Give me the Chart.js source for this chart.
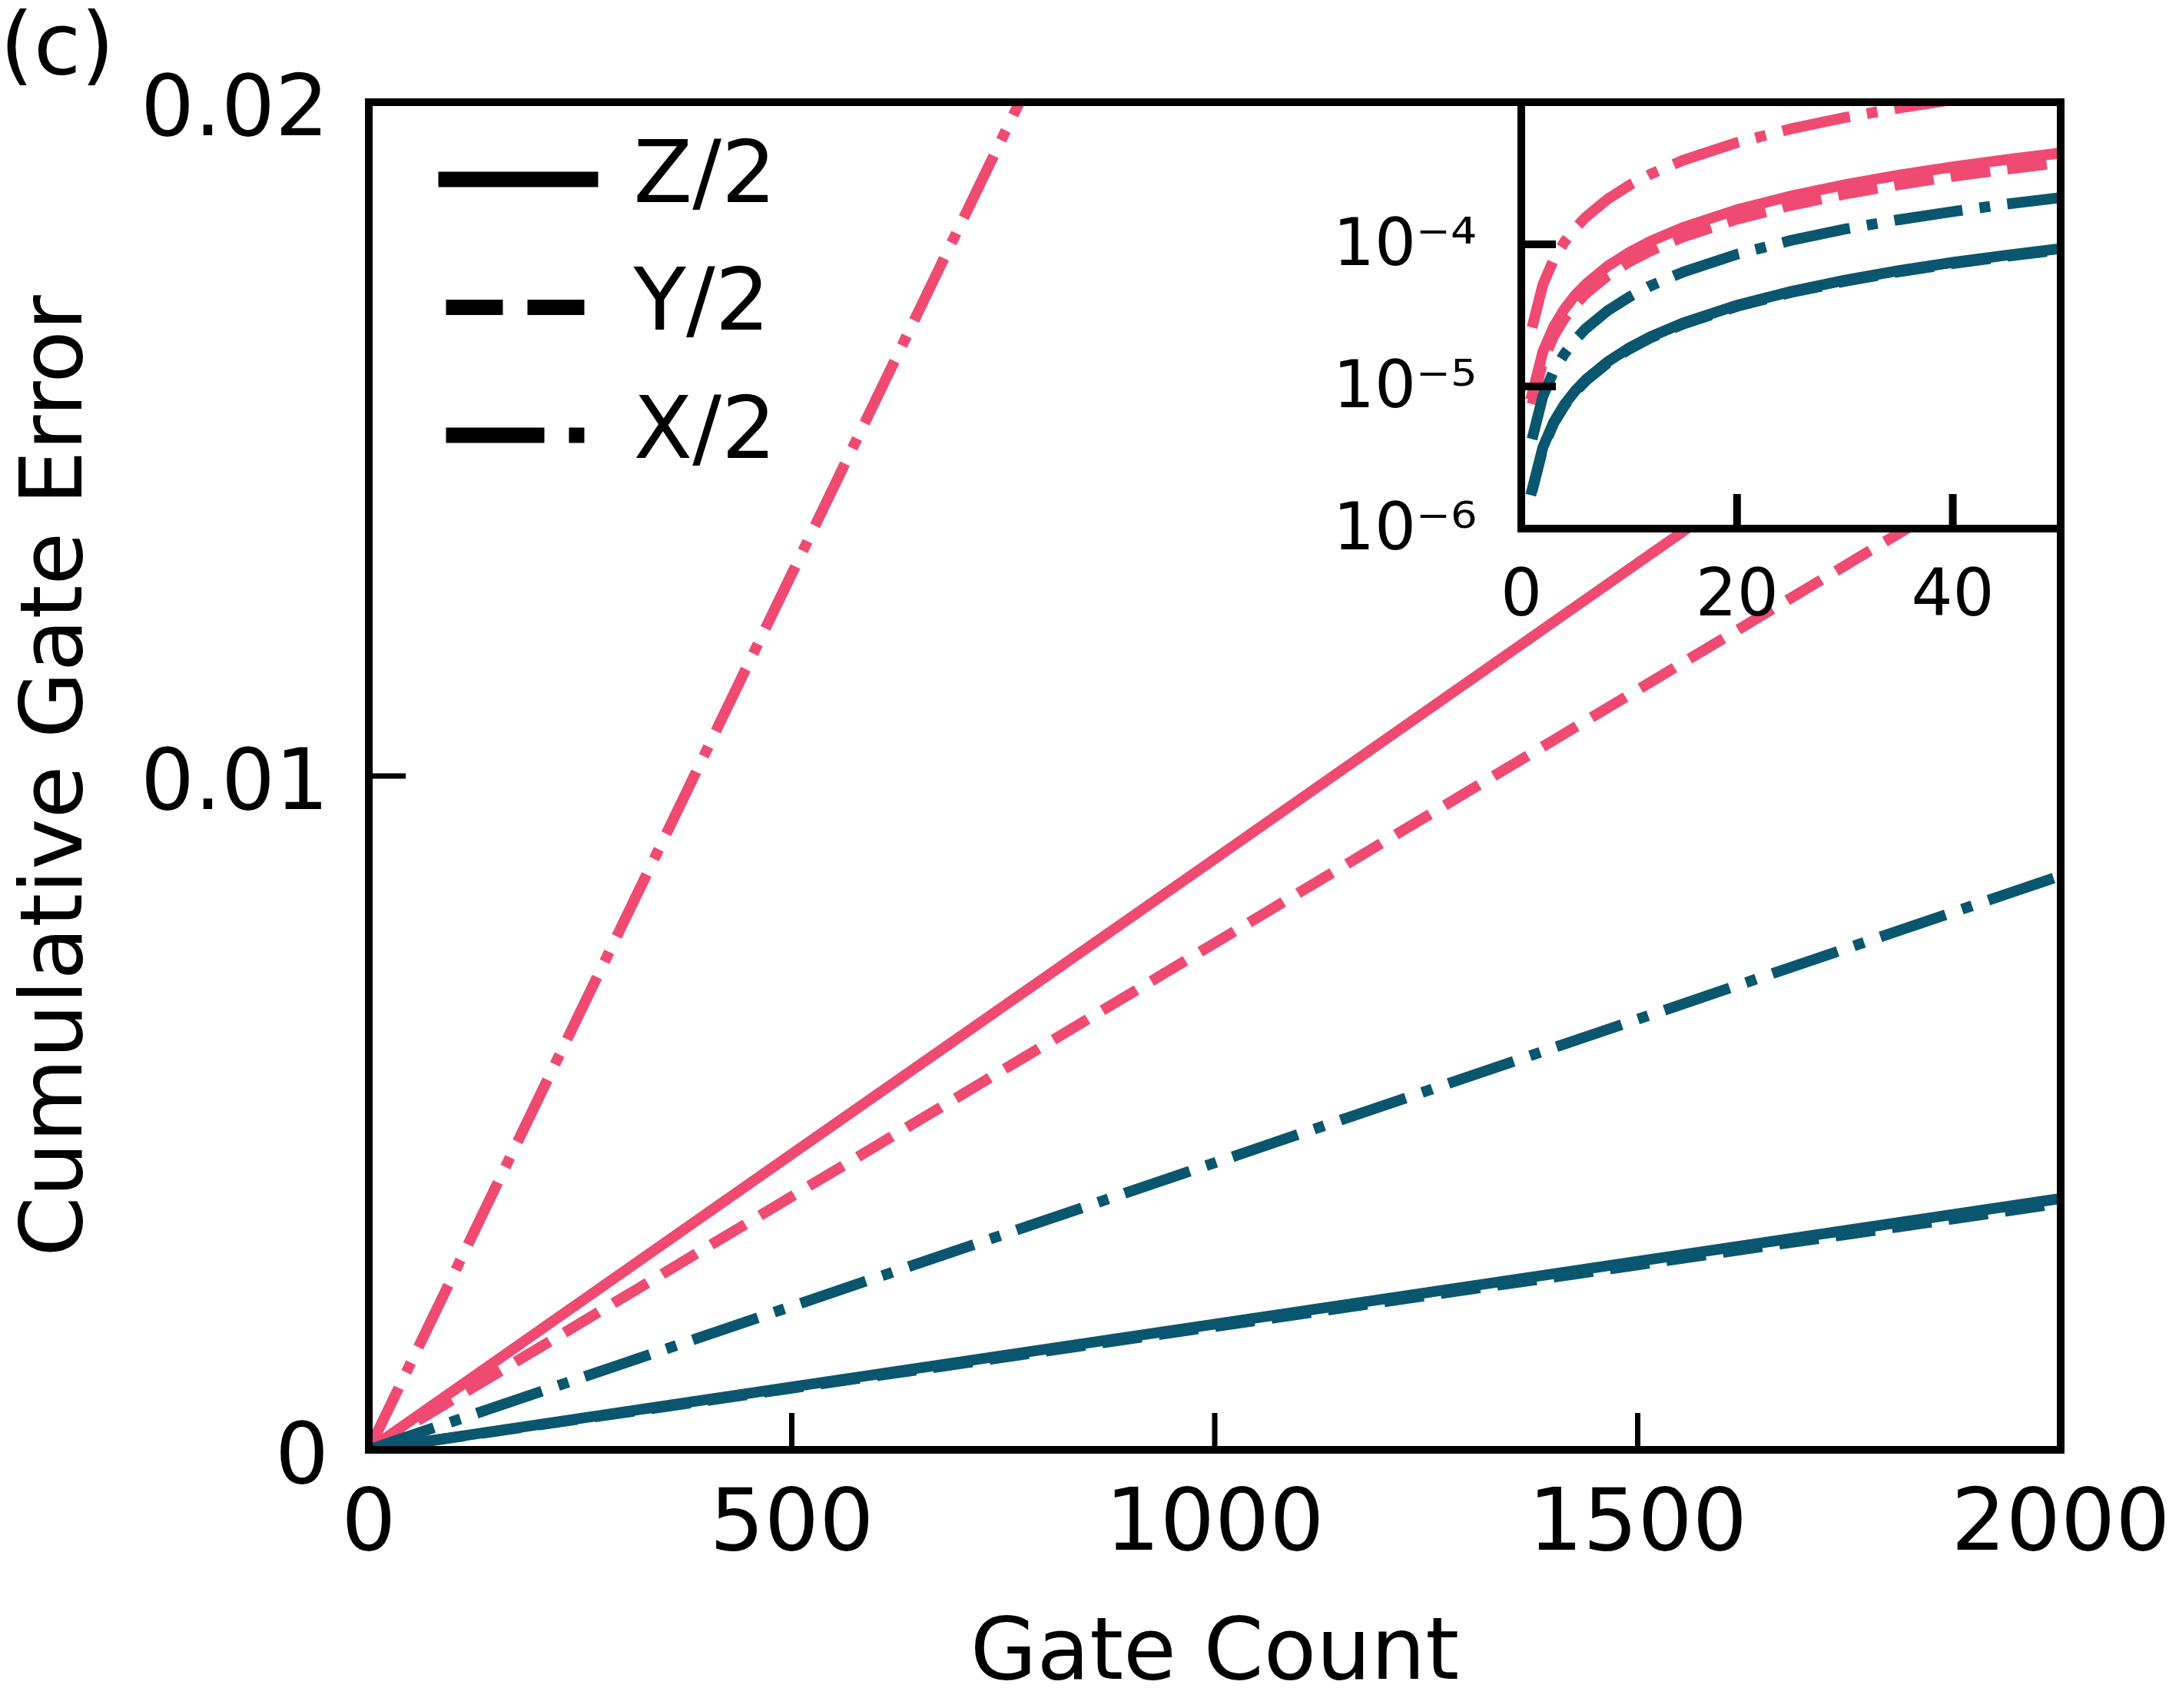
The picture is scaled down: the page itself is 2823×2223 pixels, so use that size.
<!DOCTYPE html>
<html>
<head>
<meta charset="utf-8">
<script src="https://cdn.jsdelivr.net/npm/chart.js@4.4.1/dist/chart.umd.min.js"></script>
<style>
  html, body { margin: 0; padding: 0; background: #fff; }
  #wrap { position: relative; width: 2823px; height: 2223px; }
  #wrap canvas { position: absolute; left: 0; top: 0; }
  #inset { pointer-events: none; }
</style>
</head>
<body>
<div id="wrap">
  <canvas id="main" width="2823" height="2223"></canvas>
  <canvas id="inset" width="2823" height="2223"></canvas>
</div>
<script>
// ---- data ----
const gateNames = ['Z/2', 'Y/2', 'X/2'];

// main panel, gate count 0..2000
const mainGates  = [0, 500, 1000, 1500, 2000];
const mainPinkZ  = [0, 0.00439, 0.00877, 0.01316, 0.01754];
const mainPinkY  = [0, 0.00376, 0.00752, 0.01128, 0.01504];
const mainPinkX  = [0, 0.0130, 0.0260, 0.0390, 0.0520];
const mainTealZ  = [0, 0.000933, 0.001865, 0.002798, 0.00373];
const mainTealY  = [0, 0.000915, 0.00183, 0.002745, 0.00366];
const mainTealX  = [0, 0.00213, 0.00426, 0.00639, 0.00852];
const mainXTicks  = [0, 500, 1000, 1500, 2000];
const mainXLabels = ['0', '500', '1000', '1500', '2000'];
const mainYTicks  = [0, 0.01, 0.02];
const mainYLabels = ['0', '0.01', '0.02'];

// inset, first 50 gates on a log axis
const insetGates = [0, 1, 2, 3, 4, 5, 6, 8, 10, 12, 15, 20, 25, 30, 35, 40, 45, 50];
const insetPinkZ = [0, 8.77e-6, 1.754e-5, 2.63e-5, 3.51e-5, 4.39e-5, 5.26e-5, 7.02e-5, 8.77e-5, 1.052e-4, 1.316e-4, 1.754e-4, 2.19e-4, 2.63e-4, 3.07e-4, 3.51e-4, 3.95e-4, 4.39e-4];
const insetPinkY = [0, 7.52e-6, 1.504e-5, 2.26e-5, 3.01e-5, 3.76e-5, 4.51e-5, 6.02e-5, 7.52e-5, 9.02e-5, 1.128e-4, 1.504e-4, 1.88e-4, 2.26e-4, 2.63e-4, 3.01e-4, 3.38e-4, 3.76e-4];
const insetPinkX = [0, 2.6e-5, 5.2e-5, 7.8e-5, 1.04e-4, 1.3e-4, 1.56e-4, 2.08e-4, 2.6e-4, 3.12e-4, 3.9e-4, 5.2e-4, 6.5e-4, 7.8e-4, 9.1e-4, 1.04e-3, 1.17e-3, 1.3e-3];
const insetTealZ = [0, 1.87e-6, 3.73e-6, 5.6e-6, 7.46e-6, 9.33e-6, 1.12e-5, 1.49e-5, 1.87e-5, 2.24e-5, 2.8e-5, 3.73e-5, 4.66e-5, 5.6e-5, 6.53e-5, 7.46e-5, 8.39e-5, 9.33e-5];
const insetTealY = [0, 1.83e-6, 3.66e-6, 5.49e-6, 7.32e-6, 9.15e-6, 1.1e-5, 1.46e-5, 1.83e-5, 2.2e-5, 2.75e-5, 3.66e-5, 4.58e-5, 5.49e-5, 6.41e-5, 7.32e-5, 8.24e-5, 9.15e-5];
const insetTealX = [0, 4.26e-6, 8.52e-6, 1.28e-5, 1.7e-5, 2.13e-5, 2.56e-5, 3.41e-5, 4.26e-5, 5.11e-5, 6.39e-5, 8.52e-5, 1.065e-4, 1.28e-4, 1.49e-4, 1.7e-4, 1.92e-4, 2.13e-4];
const insetXTicks = [0, 20, 40];
const insetYTicks = [1e-6, 1e-5, 1e-4];
const insetYLabels = ['10\u207B\u2076', '10\u207B\u2075', '10\u207B\u2074'];

// ---- styling ----
const PINK = '#EF4A72';
const TEAL = '#0B566F';
const FONT = 'DejaVu Sans';
const LW   = 14;
const dashFor = {
  'Z/2': [],
  'Y/2': [3.7 * LW, 1.6 * LW],
  'X/2': [6.4 * LW, 1.6 * LW, LW, 1.6 * LW],
};
const LEG_LW = 20;
const legendDash = [[], [3.7 * LEG_LW, 1.6 * LEG_LW], [6.4 * LEG_LW, 1.6 * LEG_LW, LEG_LW, 1.6 * LEG_LW]];

function series(xs, ys) {
  return xs.map((x, i) => ({ x, y: ys[i] }));
}

function makeSets(xs, groups) {
  // groups: [[values, colour, name], ...]; later groups end up on top
  return groups.map(([ys, color, name], i) => ({
    label:          name,
    data:           series(xs, ys),
    borderColor:    color,
    borderWidth:    LW,
    borderDash:     dashFor[name],
    borderCapStyle: dashFor[name].length ? 'butt' : 'square',
    pointRadius:    0,
    tension:        0,
    fill:           false,
    clip:           0,
    order:          groups.length - i,
  }));
}

// frame + inward ticks, matplotlib style
const boxPlugin = {
  id: 'box',
  beforeDraw(chart, args, opts) {
    if (!opts.fill) return;
    const { ctx, chartArea: a } = chart;
    ctx.save();
    ctx.fillStyle = opts.fill;
    ctx.fillRect(a.left, a.top, a.right - a.left, a.bottom - a.top);
    ctx.restore();
  },
  afterDatasetsDraw(chart, args, opts) {
    const { ctx, chartArea: a, scales: { x, y } } = chart;
    ctx.save();
    ctx.strokeStyle = '#000';
    ctx.lineWidth = opts.tickWidth;
    ctx.beginPath();
    x.ticks.forEach(t => {
      const px = x.getPixelForValue(t.value);
      ctx.moveTo(px, a.bottom);
      ctx.lineTo(px, a.bottom - opts.tickLength);
    });
    y.ticks.forEach(t => {
      const py = y.getPixelForValue(t.value);
      ctx.moveTo(a.left, py);
      ctx.lineTo(a.left + opts.tickLength, py);
    });
    ctx.stroke();
    ctx.lineWidth = opts.frameWidth;
    ctx.strokeRect(a.left, a.top, a.right - a.left, a.bottom - a.top);
    ctx.restore();
  },
};

// nudge the in-axes legend to where matplotlib put it
const legendNudge = {
  id: 'legendNudge',
  afterLayout(chart, args, opts) {
    if (!chart.legend || !opts.dx) return;
    chart.legend.left = chart.chartArea.left + opts.dx;
    chart.legend.top  = chart.chartArea.top + opts.dy;
  },
};

const fixTicks = list => scale => { scale.ticks = list.map(v => ({ value: v })); };
const noPad = s => { s.paddingLeft = 0; s.paddingRight = 0; s.paddingTop = 0; s.paddingBottom = 0; };

new Chart(document.getElementById('main'), {
  type: 'line',
  data: {
    datasets: makeSets(mainGates, [
      [mainPinkZ, PINK, 'Z/2'],
      [mainPinkY, PINK, 'Y/2'],
      [mainPinkX, PINK, 'X/2'],
      [mainTealZ, TEAL, 'Z/2'],
      [mainTealY, TEAL, 'Y/2'],
      [mainTealX, TEAL, 'X/2'],
    ]),
  },
  options: {
    responsive: false,
    devicePixelRatio: 1,
    animation: false,
    events: [],
    layout: { padding: { left: 0, right: 141, top: 0, bottom: 0 } },
    scales: {
      x: {
        type: 'linear', min: 0, max: 2000,
        afterBuildTicks: fixTicks(mainXTicks),
        grid: { display: false, drawTicks: false },
        border: { display: false },
        ticks: {
          font: { family: FONT, size: 112 }, color: '#000', padding: 34,
          autoSkip: false, maxRotation: 0, minRotation: 0,
          callback: (v, i) => mainXLabels[i],
        },
        title: {
          display: true, text: 'Gate Count', color: '#000',
          font: { family: FONT, size: 112 }, padding: { top: 0, bottom: 0 },
        },
        afterFit(s) { s.height = 336; noPad(s); },
      },
      y: {
        type: 'linear', min: 0, max: 0.02,
        afterBuildTicks: fixTicks(mainYTicks),
        grid: { display: false, drawTicks: false },
        border: { display: false },
        ticks: {
          font: { family: FONT, size: 110 }, color: '#000', padding: 52,
          autoSkip: false, labelOffset: 14,
          callback: (v, i) => mainYLabels[i],
        },
        title: {
          display: true, text: 'Cumulative Gate Error', color: '#000',
          font: { family: FONT, size: 112 }, padding: { top: 10, bottom: 0 },
        },
        afterFit(s) { s.width = 480; noPad(s); },
      },
    },
    plugins: {
      title: {
        display: true, text: '(c)', align: 'start', color: '#000',
        font: { family: FONT, size: 112, weight: 'normal', lineHeight: 133 / 112 },
        padding: 0,
      },
      legend: {
        position: 'chartArea', align: 'start',
        labels: {
          usePointStyle: true, pointStyleWidth: 188, padding: 54.5,
          color: '#000', font: { family: FONT, size: 112 },
          generateLabels: () => gateNames.map((t, i) => ({
            text: t, pointStyle: 'line', strokeStyle: '#000', fillStyle: '#000',
            lineWidth: LEG_LW, lineDash: legendDash[i], lineDashOffset: 0,
            lineCap: i === 0 ? 'square' : 'butt', hidden: false,
          })),
        },
      },
      tooltip: { enabled: false },
      legendNudge: { dx: 46, dy: -10 },
      box: { tickLength: 48, tickWidth: 7, frameWidth: 10 },
    },
  },
  plugins: [boxPlugin, legendNudge],
});

new Chart(document.getElementById('inset'), {
  type: 'line',
  data: {
    datasets: makeSets(insetGates, [
      [insetPinkZ, PINK, 'Z/2'],
      [insetPinkY, PINK, 'Y/2'],
      [insetPinkX, PINK, 'X/2'],
      [insetTealZ, TEAL, 'Z/2'],
      [insetTealY, TEAL, 'Y/2'],
      [insetTealX, TEAL, 'X/2'],
    ]),
  },
  options: {
    responsive: false,
    devicePixelRatio: 1,
    animation: false,
    events: [],
    layout: { padding: { left: 0, right: 141, top: 133, bottom: 2223 - 688 - 150 } },
    scales: {
      x: {
        type: 'linear', min: 0, max: 50,
        afterBuildTicks: fixTicks(insetXTicks),
        grid: { display: false, drawTicks: false },
        border: { display: false },
        ticks: {
          font: { family: FONT, size: 85 }, color: '#000', padding: 40,
          autoSkip: false, maxRotation: 0, minRotation: 0,
        },
        afterFit(s) { s.height = 150; noPad(s); },
      },
      y: {
        type: 'logarithmic', min: 1e-6, max: 1e-3,
        afterBuildTicks: fixTicks(insetYTicks),
        grid: { display: false, drawTicks: false },
        border: { display: false },
        ticks: {
          font: { family: FONT, size: 85 }, color: '#000', padding: 58,
          autoSkip: false, labelOffset: 5,
          callback: (v, i) => insetYLabels[i],
        },
        afterFit(s) { s.width = 1980; noPad(s); },
      },
    },
    plugins: {
      legend: { display: false },
      tooltip: { enabled: false },
      box: { fill: '#fff', tickLength: 45, tickWidth: 10, frameWidth: 10 },
    },
  },
  plugins: [boxPlugin],
});
</script>
</body>
</html>
